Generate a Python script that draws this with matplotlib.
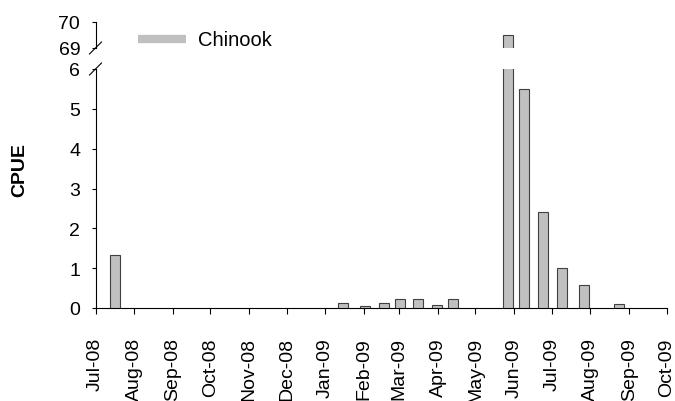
import numpy as np
import pandas as pd
import matplotlib
matplotlib.use("Agg")
import matplotlib.pyplot as plt
import matplotlib.dates as mdates
from matplotlib.lines import Line2D

# sampling dates and catch per unit effort (Chinook)
dates = ["2008-07-17", "2009-01-15", "2009-02-02", "2009-02-17", "2009-03-02",
         "2009-03-16", "2009-03-31", "2009-04-13", "2009-05-27", "2009-06-09",
         "2009-06-24", "2009-07-09", "2009-07-27", "2009-08-24"]
cpue = [1.33, 0.13, 0.05, 0.12, 0.22, 0.23, 0.07, 0.22, 69.5, 5.5, 2.4, 1.0, 0.58, 0.09]
series_name = "Chinook"

x = pd.to_datetime(dates)
plt.rcParams['font.family'] = ['Liberation Sans', 'DejaVu Sans']
plt.rcParams['font.size'] = 14

fig = plt.figure(figsize=(6.75, 4.02), dpi=100)
W, H = 675.0, 402.0
left, right = 95.5, 666.7
ax = fig.add_axes([left / W, (H - 309) / H, (right - left) / W, 239 / H])
ax_top = fig.add_axes([left / W, (H - 49) / H, (right - left) / W, 26 / H])

for a in (ax, ax_top):
    a.bar(x, cpue, width=8, color='#c0c0c0', edgecolor='#404040', linewidth=0.8, zorder=3)
    a.spines['top'].set_visible(False)
    a.spines['right'].set_visible(False)
    a.set_xlim(pd.Timestamp("2008-07-01"), pd.Timestamp("2009-10-01"))
    a.tick_params(axis='y', length=3, width=0.8, pad=8, labelsize=14)

ax.set_ylim(0, 6)
ax.set_yticks(range(0, 7))
ax.xaxis.set_major_locator(mdates.MonthLocator())
ax.xaxis.set_major_formatter(mdates.DateFormatter('%b-%y'))
ax.tick_params(axis='x', length=4, width=0.8, rotation=90, labelsize=14, pad=17)

ax_top.set_ylim(69, 70)
ax_top.set_yticks([69, 70])
ax_top.spines['bottom'].set_visible(False)
ax_top.set_xticks([])

# break marks on the y axis
d = 6.0
kw = dict(color='k', linewidth=0.8, clip_on=False)
ax.plot([-d / 571, d / 571], [1 - d / 239, 1 + d / 239], transform=ax.transAxes, **kw)
ax_top.plot([-d / 571, d / 571], [-d / 26, d / 26], transform=ax_top.transAxes, **kw)

fig.text(20 / W, 1 - 170 / H, "CPUE", rotation=90, fontweight='bold', fontsize=14,
         ha='center', va='center')

# legend
fig.add_artist(Line2D([138 / W, 186 / W], [1 - 40 / H, 1 - 40 / H], color='#c0c0c0',
                      linewidth=6, solid_capstyle='butt'))
fig.text(198 / W, 1 - 40 / H, series_name, fontsize=14.5, ha='left', va='center')

fig.savefig("out.png", dpi=100)
